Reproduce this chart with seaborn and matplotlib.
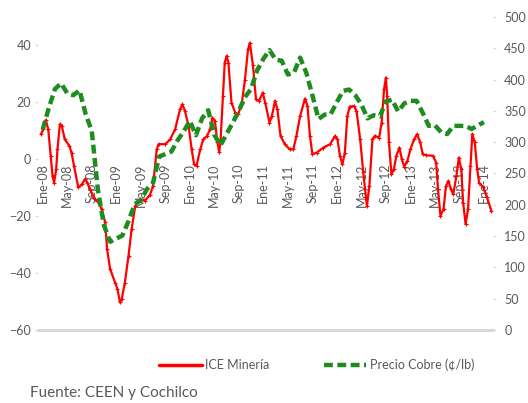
import matplotlib
matplotlib.use("Agg")
import matplotlib.pyplot as plt
import seaborn as sns
from matplotlib.lines import Line2D

# meses desde Ene-08 (0 = enero 2008)
meses_cobre = list(range(73))
precio_cobre = [
    320, 355, 385, 394, 378, 375, 383, 345, 318, 224, 167, 141,
    146, 151, 174, 201, 207, 225, 235, 277, 281, 285, 303, 317,
    334, 311, 338, 351, 312, 295, 313, 331, 350, 372, 385, 415,
    433, 447, 432, 430, 408, 411, 435, 411, 375, 337, 344, 345,
    364, 382, 384, 375, 360, 338, 343, 341, 365, 368, 349, 362,
    366, 366, 347, 326, 327, 316, 313, 326, 326, 326, 321, 327,
    332,
]

ice_mes = [
    -0.3, 0.1, 0.5, 0.9, 1.3, 1.6, 1.85, 2.2, 2.4, 2.8, 3.1, 3.6, 4.35, 4.7,
    5.1, 5.8, 6.4, 6.9, 7.3, 7.7, 8.5, 9.1, 9.6, 10.2, 10.5, 11.0, 11.8, 12.2,
    12.6, 12.9, 13.4, 14.0, 14.5, 15.1, 15.9, 16.7, 17.5, 18.0, 18.6, 18.9,
    20.0, 20.8, 21.6, 22.4, 22.8, 23.2, 23.8, 24.3, 24.7, 25.1, 25.7, 26.2,
    26.8, 27.3, 27.7, 28.1, 28.5, 28.8, 29.0, 29.4, 29.7, 30.0, 30.3, 30.8,
    31.4, 31.9, 32.5, 33.0, 33.5, 33.8, 34.3, 34.8, 35.3, 35.9, 36.3, 37.0,
    37.4, 37.9, 38.3, 38.8, 39.5, 40.3, 40.9, 41.4, 42.0, 42.8, 43.2, 43.6,
    44.0, 44.7, 45.8, 46.9, 47.7, 48.1, 48.5, 48.9, 49.3, 49.7, 50.1, 50.8,
    51.2, 51.8, 52.3, 52.9, 53.3, 53.8, 54.2, 54.9, 55.3, 55.7, 56.0, 56.2,
    56.5, 56.9, 57.3, 57.7, 58.2, 58.6, 59.0, 59.5, 60.0, 60.6, 61.1, 61.6,
    62.0, 62.6, 63.7, 64.2, 64.5, 64.9, 65.4, 65.8, 66.2, 66.6, 67.0, 67.5,
    67.9, 68.3, 68.6, 69.0, 69.4, 69.8, 70.1, 70.5, 70.9, 71.2, 71.9, 72.5,
    73.2,
]
ice_valor = [
    8.8, 10.5, 13.8, 10.5, 1.2, -5.9, -8.2, -3.5, 3.5, 12.3, 11.7, 7.0, 4.7, 2.3,
    -2.3, -9.9, -8.8, -7.0, -8.2, -10.5, -14.0, -15.2, -17.5, -22.2, -31.6, -38.6, -43.3, -45.6,
    -50.3, -49.0, -43.3, -33.9, -24.6, -16.4, -14.0, -14.5, -12.5, -9.4, 3.5, 5.3,
    5.3, 7.0, 10.5, 17.5, 19.3, 17.0, 11.7, 3.5, -1.8, -2.3, 3.5, 7.0,
    8.2, 10.5, 14.6, 13.4, 5.9, 2.6, 5.9, 22.2, 33.9, 36.3, 33.9, 19.9,
    16.4, 15.8, 19.9, 28.0, 38.6, 40.9, 33.0, 21.0, 20.5, 23.4, 19.9, 12.9,
    15.2, 20.5, 17.5, 8.2, 5.3, 3.5, 3.5, 8.2, 15.2, 21.3, 18.7, 8.2,
    1.8, 2.3, 4.1, 5.3, 8.2, 7.0, 1.2, -1.8, 2.3, 15.2, 18.5, 18.7,
    17.0, 7.0, -4.5, -16.5, -9.4, 7.0, 8.2, 7.6, 12.9, 24.6, 28.7, 22.2,
    5.9, -5.3, -3.5, 1.2, 4.1, 0.0, -2.6, -0.6, 3.5, 7.0, 8.8, 5.9,
    1.8, 1.4, 1.2, -1.2, -10.5, -19.9, -17.5, -9.4, -7.6, -10.5, -12.3, -5.9,
    0.6, -3.5, -15.2, -22.8, -17.5, -2.3, 8.8, 5.9, -3.5, -8.2, -9.9, -13.4,
    -18.1,
]

etiquetas = ["Ene-08", "May-08", "Sep-08", "Ene-09", "May-09", "Sep-09",
             "Ene-10", "May-10", "Sep-10", "Ene-11", "May-11", "Sep-11",
             "Ene-12", "May-12", "Sep-12", "Ene-13", "May-13", "Sep-13",
             "Ene-14"]
ticks_izq = [-60, -40, -20, 0, 20, 40]
ticks_der = [0, 50, 100, 150, 200, 250, 300, 350, 400, 450, 500]

sns.set_style("white")
plt.rcParams["font.family"] = ["Lato", "DejaVu Sans"]
gris = "#595959"
rojo = "#ff0000"
verde = "#1f8c1f"

fig = plt.figure(figsize=(5.28, 4.03), dpi=100)
ax = fig.add_axes([0.072, 0.181, 0.862, 0.777])
ax2 = ax.twinx()

sns.lineplot(x=ice_mes, y=ice_valor, ax=ax, color=rojo, lw=1.6,
             marker="+", markersize=3.5, markeredgewidth=0.8,
             markeredgecolor=rojo, legend=False)
sns.lineplot(x=meses_cobre, y=precio_cobre, ax=ax2, color=verde, lw=3.2,
             legend=False)
ax2.lines[0].set_dashes((2.0, 1.0))

ax.set_xlim(-0.77, 73.5)
ax.set_ylim(-60, 50)
ax2.set_ylim(0, 500)

# eje de categorías cruzando en 0, línea gris abajo
ax.spines["bottom"].set_position(("data", 0))
for s in ["top", "bottom", "left", "right"]:
    ax.spines[s].set_visible(False)
    ax2.spines[s].set_visible(False)
ax.set_xticks(range(0, 73, 4))
ax.set_xticklabels(etiquetas, rotation=90, fontsize=9, color=gris)
ax.tick_params(axis="x", length=0, pad=3)
ax.axhline(-60, color="#d9d9d9", lw=2.2, clip_on=False, zorder=0)

ax.set_yticks(ticks_izq)
ax.tick_params(axis="y", labelsize=9, labelcolor=gris, length=2,
               color="#d9d9d9", pad=3)
ax2.set_yticks(ticks_der)
ax2.tick_params(axis="y", labelsize=9, labelcolor=gris, length=2,
                color="#d9d9d9", pad=6)
ax.set_xlabel("")
ax.set_ylabel("")
ax2.set_ylabel("")

handles = [
    Line2D([], [], color=rojo, lw=2.5),
    Line2D([], [], color=verde, lw=3.2, dashes=(2.0, 1.0)),
]
leg = fig.legend(handles, ["ICE Minería", "Precio Cobre (¢/lb)"],
                 loc="center", bbox_to_anchor=(0.6, 1 - 365 / 403), ncol=2,
                 frameon=False, fontsize=9, handlelength=3.4,
                 handletextpad=0.3, columnspacing=4.3)
for t in leg.get_texts():
    t.set_color(gris)

fig.text(30 / 528, 1 - 393 / 403, "Fuente: CEEN y Cochilco", fontsize=11,
         color=gris, va="center", ha="left")

fig.savefig("out.png", dpi=100)
